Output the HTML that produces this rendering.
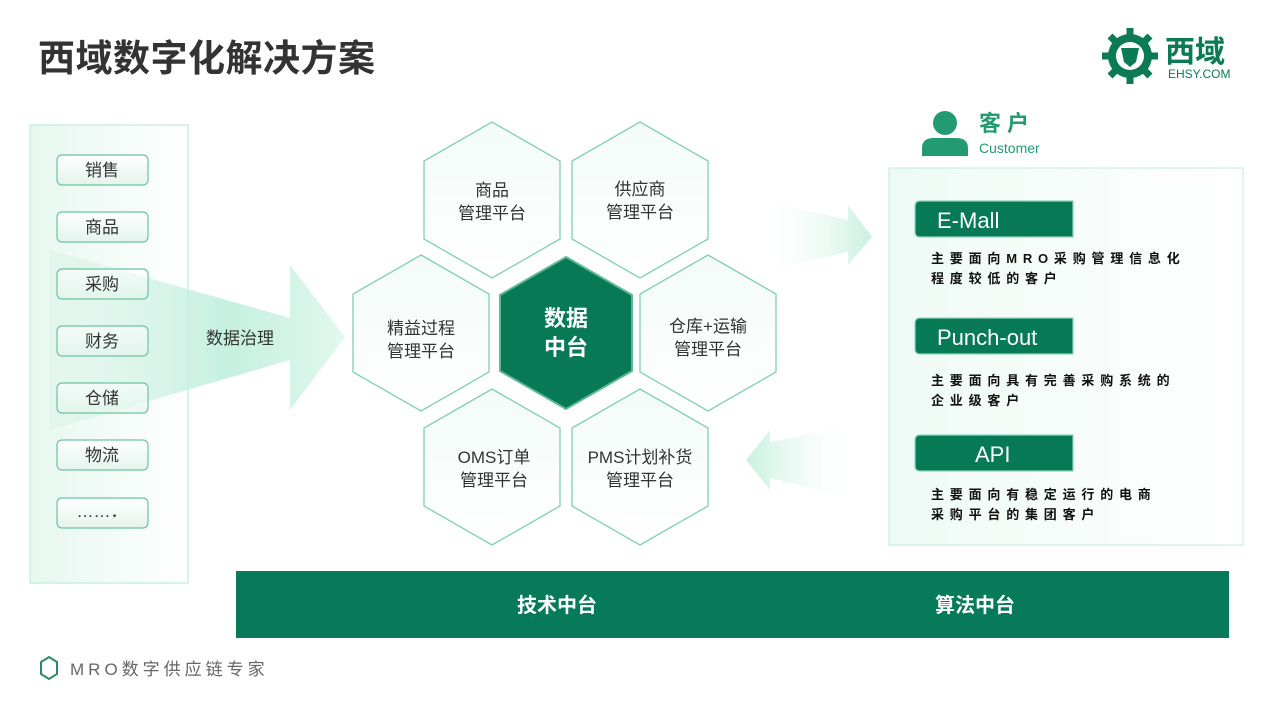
<!DOCTYPE html>
<html><head><meta charset="utf-8"><style>
html,body{margin:0;padding:0;background:#fff;}
svg{display:block}
text{font-family:"Liberation Sans","Noto Sans CJK SC",sans-serif;}
</style></head><body>
<svg width="1268" height="705" viewBox="0 0 1268 705" xmlns="http://www.w3.org/2000/svg">
<defs>
<linearGradient id="pan" x1="0" x2="1"><stop offset="0" stop-color="#e6f7f0"/><stop offset="1" stop-color="#ffffff"/></linearGradient>
<linearGradient id="arr" x1="0" x2="1"><stop offset="0" stop-color="#d4f2e6" stop-opacity="0.3"/><stop offset="0.6" stop-color="#bfeedd" stop-opacity="0.9"/><stop offset="1" stop-color="#e2f8ef"/></linearGradient>
<linearGradient id="arr2" x1="0" x2="1"><stop offset="0" stop-color="#ffffff" stop-opacity="0"/><stop offset="1" stop-color="#c8f0e0"/></linearGradient>
<linearGradient id="arr3" x1="1" x2="0"><stop offset="0" stop-color="#ffffff" stop-opacity="0"/><stop offset="1" stop-color="#c8f0e0"/></linearGradient>
<linearGradient id="hx" x1="0" y1="0" x2="0" y2="1"><stop offset="0" stop-color="#f3fbf8"/><stop offset="1" stop-color="#ffffff"/></linearGradient>
<linearGradient id="btn" x1="0" y1="0" x2="0" y2="1"><stop offset="0" stop-color="#ffffff"/><stop offset="1" stop-color="#e4f4ed"/></linearGradient>
<linearGradient id="rp" x1="0" x2="1"><stop offset="0" stop-color="#eefaf5"/><stop offset="1" stop-color="#ffffff"/></linearGradient>
</defs>

<text x="38" y="71" font-size="37" font-weight="bold" fill="#333" letter-spacing="0.5">西域数字化解决方案</text>

<!-- logo -->
<g fill="#0b7a55">
<circle cx="1130" cy="56" r="22"/>
<g stroke="#0b7a55" stroke-width="7">
<line x1="1130" y1="28" x2="1130" y2="84"/><line x1="1102" y1="56" x2="1158" y2="56"/>
<line x1="1110" y1="36" x2="1150" y2="76"/><line x1="1150" y1="36" x2="1110" y2="76"/>
</g>
<circle cx="1130" cy="56" r="14" fill="#fff"/>
<path d="M1121 48 L1139 48 L1136 62 L1130 67 L1124 62 Z" fill="#0b7a55"/>
</g>
<text x="1165" y="62" font-size="30" font-weight="bold" fill="#0b7a55">西域</text>
<text x="1168" y="78" font-size="12" fill="#0b7a55">EHSY.COM</text>

<!-- left panel -->
<rect x="30" y="125" width="158" height="458" fill="url(#pan)" stroke="#c9efe1" stroke-width="1.5"/>
<polygon points="50,250 290,318 290,265 345,337 290,410 290,360 50,430" fill="url(#arr)"/>
<g font-size="17" fill="#333" text-anchor="middle">
<rect x="57" y="155" width="91" height="30" rx="5" fill="url(#btn)" stroke="#6cc4a2" stroke-width="1.2"/><text x="102" y="176">销售</text>
<rect x="57" y="212" width="91" height="30" rx="5" fill="url(#btn)" stroke="#6cc4a2" stroke-width="1.2"/><text x="102" y="233">商品</text>
<rect x="57" y="269" width="91" height="30" rx="5" fill="url(#btn)" stroke="#6cc4a2" stroke-width="1.2" fill-opacity="0.6"/><text x="102" y="290">采购</text>
<rect x="57" y="326" width="91" height="30" rx="5" fill="url(#btn)" stroke="#6cc4a2" stroke-width="1.2" fill-opacity="0.6"/><text x="102" y="347">财务</text>
<rect x="57" y="383" width="91" height="30" rx="5" fill="url(#btn)" stroke="#6cc4a2" stroke-width="1.2" fill-opacity="0.6"/><text x="102" y="404">仓储</text>
<rect x="57" y="440" width="91" height="30" rx="5" fill="url(#btn)" stroke="#6cc4a2" stroke-width="1.2"/><text x="102" y="461">物流</text>
<rect x="57" y="498" width="91" height="30" rx="5" fill="url(#btn)" stroke="#6cc4a2" stroke-width="1.2"/><text x="102" y="517">……．</text>
</g>
<text x="240" y="344" font-size="17" fill="#333" text-anchor="middle">数据治理</text>

<!-- hexagons -->
<g stroke="#7fd0b1" stroke-width="1.3" fill="url(#hx)">
<polygon points="492,122 560,161 560,239 492,278 424,239 424,161"/>
<polygon points="640,122 708,161 708,239 640,278 572,239 572,161"/>
<polygon points="421,255 489,294 489,372 421,411 353,372 353,294"/>
<polygon points="708,255 776,294 776,372 708,411 640,372 640,294"/>
<polygon points="492,389 560,428 560,506 492,545 424,506 424,428"/>
<polygon points="640,389 708,428 708,506 640,545 572,506 572,428"/>
</g>
<polygon points="566,257 632,295 632,371 566,409 500,371 500,295" fill="#077a55" stroke="#5fb896" stroke-width="2"/>
<g font-size="17" fill="#333" text-anchor="middle">
<text x="492" y="196">商品</text><text x="492" y="219">管理平台</text>
<text x="640" y="195">供应商</text><text x="640" y="218">管理平台</text>
<text x="421" y="334">精益过程</text><text x="421" y="357">管理平台</text>
<text x="708" y="332">仓库+运输</text><text x="708" y="355">管理平台</text>
<text x="494" y="463">OMS订单</text><text x="494" y="486">管理平台</text>
<text x="640" y="463">PMS计划补货</text><text x="640" y="486">管理平台</text>
</g>
<text x="566" y="326" font-size="22" font-weight="bold" fill="#fff" text-anchor="middle">数据</text>
<text x="566" y="355" font-size="22" font-weight="bold" fill="#fff" text-anchor="middle">中台</text>

<!-- right arrows -->
<polygon points="760,200 848,220 848,205 872,237 848,265 848,252 760,272" fill="url(#arr2)"/>
<polygon points="860,425 770,442 770,430 746,460 770,490 770,478 860,500" fill="url(#arr3)"/>

<!-- customer -->
<circle cx="945" cy="123" r="12" fill="#229a72"/>
<path d="M922 156 L922 148 Q922 138 934 138 L956 138 Q968 138 968 148 L968 156 Z" fill="#229a72"/>
<text x="979" y="131" font-size="22" font-weight="bold" fill="#229a72" letter-spacing="6">客户</text>
<text x="979" y="153" font-size="14" fill="#229a72">Customer</text>

<rect x="889" y="168" width="354" height="377" fill="url(#rp)" stroke="#c9efe1" stroke-width="1.2"/>
<g fill="#077a55" stroke="#8ed8bb" stroke-width="1.2">
<path d="M920 201 L1073 201 L1073 237 L920 237 Q915 237 915 232 L915 206 Q915 201 920 201Z"/>
<path d="M920 318 L1073 318 L1073 354 L920 354 Q915 354 915 349 L915 323 Q915 318 920 318Z"/>
<path d="M920 435 L1073 435 L1073 471 L920 471 Q915 471 915 466 L915 440 Q915 435 920 435Z"/>
</g>
<g font-size="22" fill="#fff">
<text x="937" y="228">E-Mall</text>
<text x="937" y="345">Punch-out</text>
<text x="975" y="462">API</text>
</g>
<g font-size="13" font-weight="bold" fill="#111" letter-spacing="5.8">
<text x="931" y="263">主要面向MRO采购管理信息化</text>
<text x="931" y="283">程度较低的客户</text>
<text x="931" y="385">主要面向具有完善采购系统的</text>
<text x="931" y="405">企业级客户</text>
<text x="931" y="499">主要面向有稳定运行的电商</text>
<text x="931" y="519">采购平台的集团客户</text>
</g>

<!-- bottom bar -->
<rect x="236" y="571" width="993" height="67" fill="#077a5a"/>
<text x="557" y="612" font-size="20" font-weight="bold" fill="#fff" text-anchor="middle">技术中台</text>
<text x="975" y="612" font-size="20" font-weight="bold" fill="#fff" text-anchor="middle">算法中台</text>

<!-- footer -->
<polygon points="49,657 57,662 57,674 49,679 41,674 41,662" fill="none" stroke="#2a8a68" stroke-width="2"/>
<text x="70" y="675" font-size="17" fill="#666" letter-spacing="4">MRO数字供应链专家</text>
</svg>
</body></html>
